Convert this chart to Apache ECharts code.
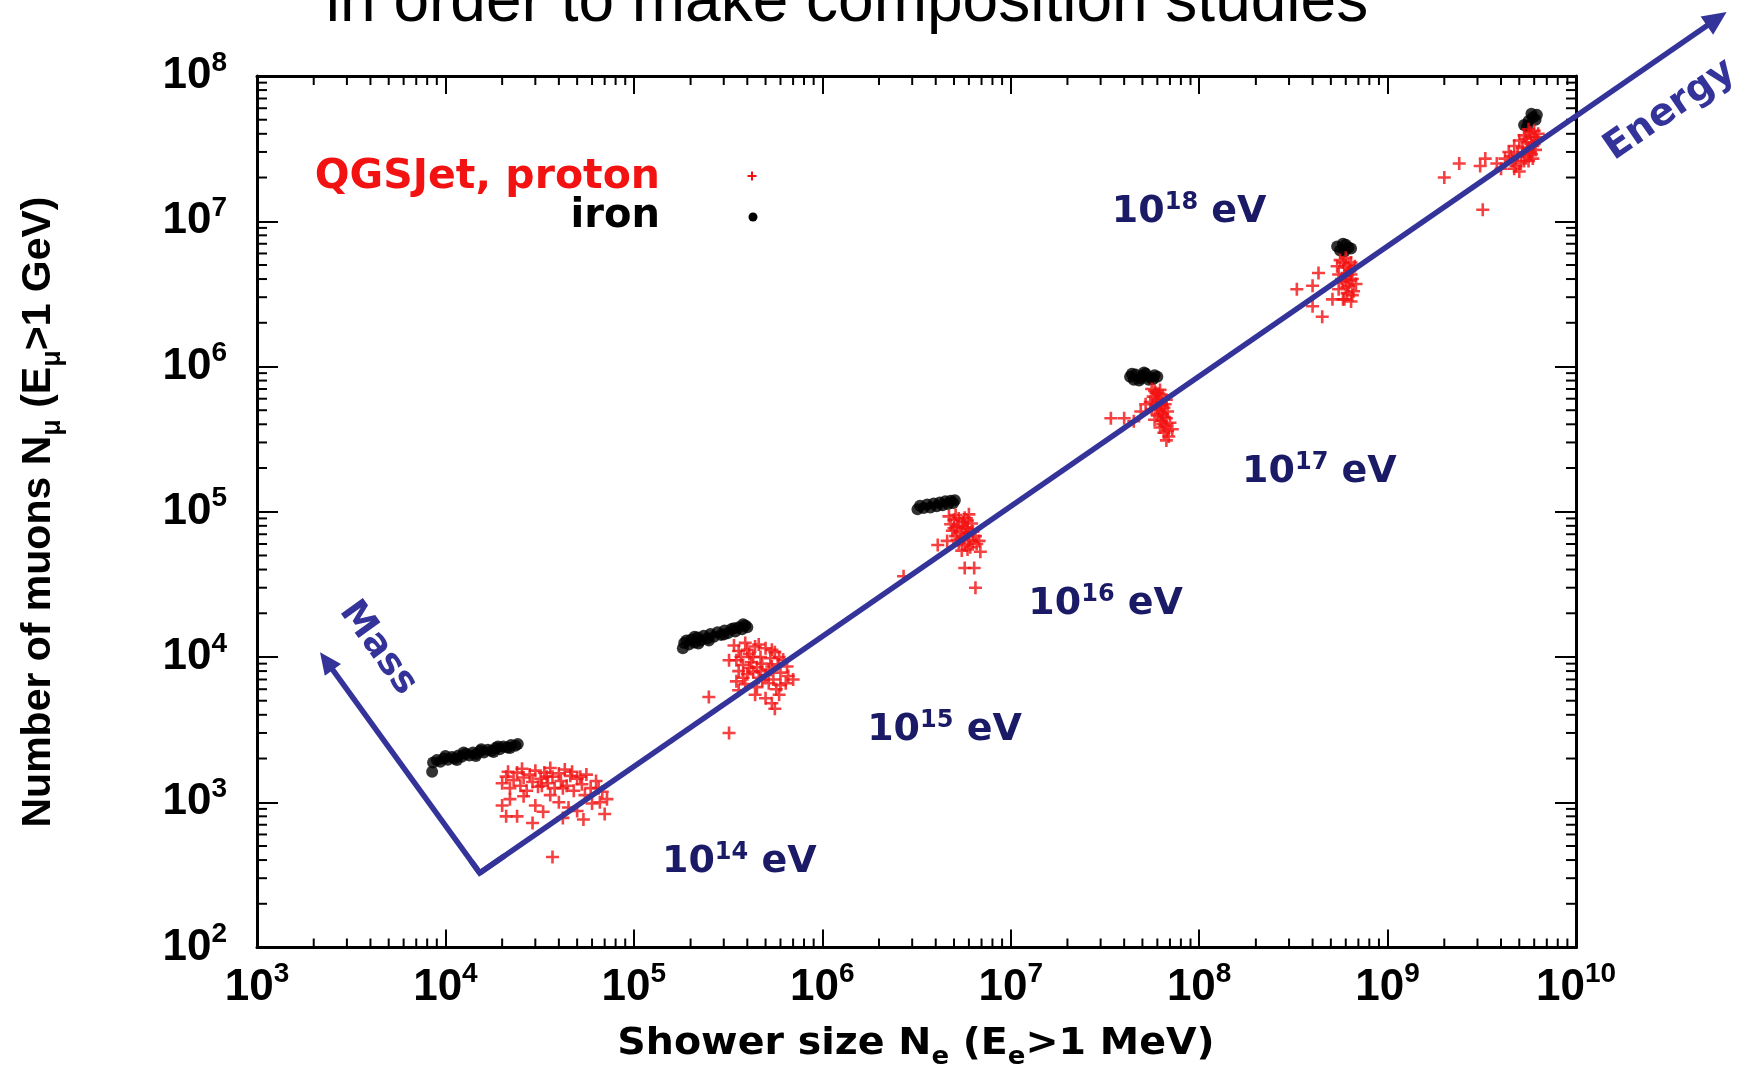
<!DOCTYPE html>
<html><head><meta charset="utf-8">
<script src="https://cdn.jsdelivr.net/npm/echarts@6/dist/echarts.min.js"></script>
<style>html,body{margin:0;padding:0;background:#fff}#c{width:1754px;height:1069px}</style>
</head><body><div id="c"></div>
<script>
// ---------- DATA (Ne = shower size, Nmu = muon number) ----------
const xRange = [1e3, 1e10];
const yRange = [1e2, 1e8];

const ironE14 = [[8.5e3,1.62e3],[8.6e3,1.88e3],[9.0e3,1.95e3],[9.4e3,1.9e3],[9.8e3,2.0e3],[1.03e4,1.96e3],[1.08e4,2.05e3],[1.12e4,2.0e3],[1.17e4,2.1e3],[1.22e4,2.06e3],[1.28e4,2.15e3],[1.34e4,2.1e3],[1.4e4,2.2e3],[1.46e4,2.15e3],[1.53e4,2.25e3],[1.6e4,2.2e3],[1.68e4,2.3e3],[1.76e4,2.26e3],[1.85e4,2.36e3],[1.94e4,2.32e3],[2.03e4,2.42e3],[2.13e4,2.38e3],[2.23e4,2.48e3],[2.35e4,2.45e3],[2.42e4,2.52e3],[1.0e4,2.08e3],[1.25e4,2.2e3],[1.55e4,2.32e3],[1.9e4,2.42e3],[1.15e4,1.95e3],[1.45e4,2.08e3],[1.8e4,2.22e3],[2.2e4,2.36e3]];
const ironE15 = [[1.82e5,1.15e4],[1.85e5,1.25e4],[1.9e5,1.3e4],[1.96e5,1.22e4],[2.02e5,1.32e4],[2.1e5,1.26e4],[2.18e5,1.36e4],[2.26e5,1.3e4],[2.35e5,1.4e4],[2.45e5,1.34e4],[2.55e5,1.44e4],[2.66e5,1.38e4],[2.78e5,1.48e4],[2.9e5,1.42e4],[3.03e5,1.52e4],[3.16e5,1.46e4],[3.3e5,1.56e4],[3.45e5,1.5e4],[3.6e5,1.6e4],[3.75e5,1.55e4],[3.9e5,1.65e4],[4.0e5,1.6e4],[2.1e5,1.38e4],[2.5e5,1.3e4],[3.0e5,1.43e4],[3.4e5,1.58e4],[3.8e5,1.68e4],[2.2e5,1.24e4]];
const ironE16 = [[3.2e6,1.04e5],[3.3e6,1.1e5],[3.45e6,1.06e5],[3.6e6,1.12e5],[3.75e6,1.07e5],[3.9e6,1.14e5],[4.05e6,1.09e5],[4.2e6,1.16e5],[4.35e6,1.11e5],[4.5e6,1.18e5],[4.65e6,1.13e5],[4.8e6,1.19e5],[4.95e6,1.15e5],[5.05e6,1.2e5]];
const ironE17 = [[4.3e7,8.5e5],[4.6e7,8.8e5],[4.9e7,8.3e5],[5.2e7,8.9e5],[5.5e7,8.4e5],[5.8e7,8.7e5],[4.5e7,8.1e5],[5.0e7,8.6e5],[5.4e7,8.1e5],[6.0e7,8.5e5],[4.4e7,8.9e5],[5.1e7,9.1e5],[5.7e7,8.2e5],[4.8e7,8.0e5]];
const ironE18 = [[5.4e8,6.7e6],[5.8e8,7.0e6],[6.2e8,6.6e6],[5.6e8,6.3e6],[6.0e8,6.9e6],[6.4e8,6.5e6],[5.9e8,6.2e6]];
const ironE19 = [[5.3e9,4.6e7],[5.6e9,4.9e7],[5.9e9,5.2e7],[6.2e9,5.4e7],[5.5e9,4.5e7],[6.1e9,5.0e7],[5.8e9,5.5e7]];

const protonE14 = [[2.0e4,1.35e3],[2.1e4,1.5e3],[2.2e4,1.25e3],[2.3e4,1.42e3],[2.4e4,1.6e3],[2.5e4,1.3e3],[2.6e4,1.48e3],[2.7e4,1.2e3],[2.8e4,1.55e3],[2.9e4,1.38e3],[3.0e4,1.65e3],[3.1e4,1.28e3],[3.2e4,1.45e3],[3.35e4,1.6e3],[3.5e4,1.35e3],[3.6e4,1.72e3],[3.7e4,1.5e3],[3.8e4,1.25e3],[4.0e4,1.58e3],[4.1e4,1.4e3],[4.3e4,1.68e3],[4.4e4,1.3e3],[4.6e4,1.52e3],[4.8e4,1.2e3],[5.0e4,1.45e3],[5.3e4,1.33e3],[5.6e4,1.55e3],[5.9e4,1.25e3],[6.3e4,1.4e3],[6.8e4,1.18e3],[7.2e4,1.05e3],[2.0e4,950],[2.2e4,1.05e3],[2.4e4,800],[2.9e4,720],[3.3e4,860],[4.0e4,1.0e3],[4.5e4,920],[5.0e4,870],[5.4e4,760],[6.0e4,980],[7.0e4,830],[3.7e4,420],[2.15e4,1.62e3],[2.55e4,1.7e3],[3.25e4,1.3e3],[3.45e4,1.5e3],[4.2e4,1.25e3],[4.7e4,1.62e3],[5.2e4,1.5e3],[5.5e4,1.12e3],[6.5e4,1.25e3],[2.6e4,1.1e3],[3.0e4,950],[3.6e4,1.12e3],[4.2e4,780],[2.1e4,800],[6.6e4,1.0e3]];
const protonE15 = [[3.4e5,1.2e4],[3.6e5,1.1e4],[3.9e5,1.25e4],[4.1e5,1.05e4],[4.4e5,1.18e4],[4.7e5,1.0e4],[5.0e5,1.15e4],[5.3e5,9.8e3],[5.6e5,1.08e4],[3.5e5,9.5e3],[3.8e5,8.8e3],[4.2e5,9.2e3],[4.5e5,8.5e3],[4.8e5,9.0e3],[5.2e5,8.2e3],[5.8e5,8.9e3],[6.2e5,9.6e3],[3.6e5,8.0e3],[4.0e5,7.6e3],[4.3e5,7.9e3],[4.6e5,7.2e3],[5.0e5,7.5e3],[5.5e5,7.0e3],[6.0e5,7.8e3],[6.6e5,7.4e3],[3.5e5,6.8e3],[3.9e5,6.5e3],[4.5e5,6.2e3],[5.2e5,6.6e3],[6.0e5,6.4e3],[7.0e5,7.0e3],[3.6e5,5.9e3],[4.4e5,5.5e3],[5.0e5,5.2e3],[5.4e5,4.8e3],[5.9e5,5.5e3],[5.6e5,4.4e3],[3.2e5,9.5e3],[2.5e5,5.3e3],[3.2e5,3.0e3],[4.0e5,1.12e4],[4.6e5,1.22e4],[5.4e5,1.12e4],[3.7e5,1.0e4],[4.3e5,1.0e4],[5.9e5,1.0e4],[6.5e5,8.6e3],[4.1e5,8.4e3],[4.7e5,8.0e3],[5.4e5,8.6e3],[3.8e5,7.2e3],[4.8e5,6.9e3],[5.7e5,6.0e3],[6.4e5,6.6e3]];
const protonE16 = [[4.7e6,9.3e4],[5.0e6,8.8e4],[5.3e6,9.0e4],[5.6e6,8.5e4],[4.8e6,8.2e4],[5.2e6,7.9e4],[5.5e6,8.0e4],[5.9e6,7.6e4],[6.2e6,8.3e4],[4.9e6,7.4e4],[5.4e6,7.2e4],[5.8e6,7.0e4],[6.3e6,7.3e4],[5.1e6,6.8e4],[5.6e6,6.6e4],[6.0e6,6.4e4],[6.5e6,6.8e4],[5.3e6,6.1e4],[5.7e6,5.9e4],[6.1e6,5.7e4],[6.6e6,6.0e4],[6.9e6,5.3e4],[5.5e6,5.4e4],[4.1e6,5.9e4],[4.6e6,6.3e4],[5.7e6,4.1e4],[6.4e6,4.1e4],[6.5e6,3.0e4],[2.7e6,3.6e4],[6.0e6,9.6e4],[5.1e6,9.5e4],[5.7e6,9.1e4],[5.9e6,8.7e4],[5.0e6,7.7e4],[5.7e6,7.8e4],[6.0e6,7.1e4],[5.2e6,6.4e4],[6.3e6,6.2e4],[5.9e6,5.5e4],[6.8e6,6.3e4]];
const protonE17 = [[5.6e7,7.0e5],[5.9e7,6.6e5],[6.2e7,6.9e5],[5.7e7,6.2e5],[6.0e7,6.0e5],[6.4e7,6.3e5],[5.5e7,5.7e5],[5.9e7,5.5e5],[6.3e7,5.6e5],[6.7e7,5.9e5],[5.6e7,5.1e5],[6.1e7,5.0e5],[6.5e7,5.2e5],[6.0e7,4.6e5],[6.4e7,4.7e5],[6.8e7,4.9e5],[5.8e7,4.3e5],[6.3e7,4.2e5],[6.7e7,4.4e5],[6.2e7,3.8e5],[6.6e7,3.9e5],[7.0e7,4.1e5],[6.5e7,3.5e5],[6.9e7,3.3e5],[7.2e7,3.7e5],[3.4e7,4.4e5],[4.0e7,4.4e5],[4.5e7,4.2e5],[4.9e7,4.9e5],[5.2e7,5.5e5],[5.8e7,6.8e5],[6.1e7,6.5e5],[6.0e7,5.8e5],[6.3e7,5.4e5],[6.6e7,5.5e5],[6.2e7,4.8e5],[6.5e7,4.5e5],[6.4e7,4.0e5],[6.8e7,3.6e5],[6.7e7,3.1e5]];
const protonE18 = [[5.6e8,5.4e6],[6.0e8,5.6e6],[6.4e8,5.2e6],[5.4e8,4.9e6],[5.9e8,4.8e6],[6.3e8,4.6e6],[6.7e8,4.9e6],[5.5e8,4.3e6],[6.0e8,4.2e6],[6.5e8,4.0e6],[5.8e8,3.8e6],[6.2e8,3.6e6],[6.8e8,3.7e6],[5.5e8,3.4e6],[6.1e8,3.2e6],[6.6e8,3.3e6],[5.8e8,2.9e6],[6.4e8,2.8e6],[5.1e8,2.9e6],[5.9e8,2.9e6],[4.3e8,4.4e6],[3.3e8,3.4e6],[4.0e8,3.6e6],[4.0e8,2.6e6],[4.5e8,2.2e6],[5.8e8,5.2e6],[6.2e8,5.0e6],[6.1e8,4.4e6],[6.4e8,4.3e6],[5.7e8,4.0e6],[6.3e8,3.9e6],[6.0e8,3.5e6],[6.5e8,3.1e6]];
const protonE19 = [[5.6e9,4.3e7],[6.0e9,4.2e7],[6.3e9,4.0e7],[5.3e9,3.9e7],[5.8e9,3.8e7],[6.2e9,3.6e7],[5.0e9,3.6e7],[5.5e9,3.5e7],[5.9e9,3.3e7],[4.7e9,3.3e7],[5.2e9,3.2e7],[5.7e9,3.0e7],[6.1e9,3.1e7],[4.4e9,3.0e7],[4.9e9,2.9e7],[5.4e9,2.8e7],[5.9e9,2.7e7],[4.2e9,2.7e7],[4.6e9,2.6e7],[5.1e9,2.5e7],[5.6e9,2.6e7],[3.8e9,2.5e7],[4.0e9,2.3e7],[4.7e9,2.3e7],[5.0e9,2.2e7],[3.1e9,2.4e7],[3.3e9,2.7e7],[2.4e9,2.5e7],[2.0e9,2.0e7],[3.2e9,1.2e7],[5.7e9,4.1e7],[6.1e9,3.8e7],[5.4e9,3.7e7],[5.6e9,3.2e7],[6.0e9,3.4e7],[5.2e9,3.0e7],[5.8e9,2.9e7],[5.3e9,2.6e7],[4.5e9,2.8e7],[4.8e9,2.4e7]];

// energy labels (exponent) and their anchors in data coordinates
const energyExponents = ['14','15','16','17','18'];
const energyAnchors = [[1.41e5,388],[1.73e6,3.14e3],[1.24e7,2.32e4],[1.69e8,1.88e5],[3.44e7,1.16e7]];
// annotation arrows in data coordinates
const arrowVertex = [1.52e4, 326];
const massTip = [2.16e3, 1.08e4];
const energyTip = [6.3e10, 2.76e8];
const massLabelAt = [4.38e3, 1.15e4];
const energyLabelAt = [3.15e10, 5.83e7];

const legendNames = ['QGSJet, proton', 'iron'];
const titleText = 'in order to make composition studies';

// ---------- CHART ----------
const iron = [].concat(ironE14, ironE15, ironE16, ironE17, ironE18, ironE19);
const proton = [].concat(protonE14, protonE15, protonE16, protonE17, protonE18, protonE19);

const ARIAL = "'Liberation Sans', Arial, sans-serif";
const DEJA = "'DejaVu Sans', sans-serif";
const NAVY = '#1a1a66';
const BLUE = '#333399';
const RED = '#f21212';
const plusPath = 'path://M4,0H6V4H10V6H6V10H4V6H0V4H4Z';

const tickRich = {
  b: {fontFamily: ARIAL, fontWeight: 'bold', fontSize: 44, lineHeight: 44, color: '#000'},
  s: {fontFamily: ARIAL, fontWeight: 'bold', fontSize: 28, lineHeight: 14, height: 18, verticalAlign: 'top', color: '#000'}
};
function powLabel(v) {
  return '{b|10}{s|' + Math.round(Math.log10(v)) + '}';
}
function logAxis(pos, showLabel, tickLen, margin, range, split) {
  return {
    type: 'log', logBase: 10, min: range[0], max: range[1], splitNumber: split,
    position: pos,
    axisLine: {show: true, onZero: false, lineStyle: {color: '#000', width: 3}},
    axisTick: {show: true, inside: true, length: tickLen, lineStyle: {color: '#000', width: 2}},
    minorTick: {show: false},
    splitLine: {show: false},
    axisLabel: {show: showLabel, margin: margin, formatter: powLabel, rich: tickRich,
                showMinLabel: true, showMaxLabel: true, hideOverlap: false}
  };
}

const chart = echarts.init(document.getElementById('c'), null, {renderer: 'canvas'});
chart.setOption({
  animation: false,
  backgroundColor: '#fff',
  grid: {left: 257, top: 76, right: 178, bottom: 121.5, containLabel: false, outerBoundsMode: 'none'},
  xAxis: [logAxis('bottom', true, 18, 18, xRange, 7), logAxis('top', false, 18, 18, xRange, 7)],
  yAxis: [logAxis('left', true, 21, 30, yRange, 6), logAxis('right', false, 21, 30, yRange, 6)],
  series: [
    {type: 'scatter', name: 'iron', data: iron, symbol: 'circle', symbolSize: 12,
     itemStyle: {color: '#000'}, z: 2, silent: true},
    {type: 'scatter', name: 'QGSJet, proton', data: proton, symbol: plusPath, symbolSize: 13,
     itemStyle: {color: RED}, z: 3, silent: true}
  ]
});

// ---------- ANNOTATIONS via the chart's own coordinate system ----------
const P = v => chart.convertToPixel({gridIndex: 0}, v);
const PX = v => chart.convertToPixel({xAxisIndex: 0}, v);
const PY = v => chart.convertToPixel({yAxisIndex: 0}, v);
const g = [];
function line(x1, y1, x2, y2, color, w, z) {
  return {type: 'line', silent: true, z: z || 50, shape: {x1, y1, x2, y2}, style: {stroke: color, lineWidth: w}};
}
function text(x, y, str, rich, align, valign, extra, base) {
  const st = Object.assign({text: str, rich: rich, align: align, verticalAlign: valign,
                            textAlign: align, textVerticalAlign: valign}, base || {});
  return Object.assign({type: 'text', silent: true, z: 200, x: x, y: y, style: st}, extra || {});
}

// minor ticks (2..9 within each decade) on all four sides
const L = PX(xRange[0]), R = PX(xRange[1]), T = PY(yRange[1]), B = PY(yRange[0]);
for (let d = 3; d < 10; d++) for (let k = 2; k <= 9; k++) {
  const x = PX(k * Math.pow(10, d));
  g.push(line(x, B, x, B - 9, '#000', 2));
  g.push(line(x, T, x, T + 9, '#000', 2));
}
for (let d = 2; d < 8; d++) for (let k = 2; k <= 9; k++) {
  const y = PY(k * Math.pow(10, d));
  g.push(line(L, y, L + 10, y, '#000', 2));
  g.push(line(R, y, R - 10, y, '#000', 2));
}

// arrows
function arrow(from, to, headLen, half) {
  const dx = to[0] - from[0], dy = to[1] - from[1], l = Math.hypot(dx, dy);
  const ux = dx / l, uy = dy / l;
  const bx = to[0] - ux * headLen, by = to[1] - uy * headLen;
  g.push(line(from[0], from[1], bx + ux * 3, by + uy * 3, BLUE, 5.5, 150));
  g.push({type: 'polygon', silent: true, z: 151,
          shape: {points: [[to[0], to[1]], [bx - uy * half, by + ux * half], [bx + uy * half, by - ux * half]]},
          style: {fill: BLUE}});
}
const pv = P(arrowVertex), pm = P(massTip), pe = P(energyTip);
arrow(pv, pm, 22, 10);
arrow(pv, pe, 24, 11);
// join at the vertex
g.push({type: 'polyline', silent: true, z: 150,
        shape: {points: [[pv[0] + (pm[0] - pv[0]) * 0.05, pv[1] + (pm[1] - pv[1]) * 0.05], [pv[0], pv[1]],
                         [pv[0] + (pe[0] - pv[0]) * 0.02, pv[1] + (pe[1] - pv[1]) * 0.02]]},
        style: {stroke: BLUE, lineWidth: 5.5, lineJoin: 'miter', fill: null}});

const annRich = (color, size) => ({
  n: {fontFamily: DEJA, fontWeight: 'bold', fontSize: size, lineHeight: size, fill: color, color: color}
});
const pml = P(massLabelAt);
g.push(text(pml[0], pml[1], '{n|Mass}', annRich(BLUE, 37), 'center', 'middle',
  {rotation: -Math.atan2(pv[1] - pm[1], pv[0] - pm[0])}));
const pel = P(energyLabelAt);
g.push(text(pel[0], pel[1], '{n|Energy}', annRich(BLUE, 38), 'center', 'middle',
  {rotation: Math.atan2(pv[1] - pe[1], pe[0] - pv[0])}));

// energy labels
const eRich = {
  b: {fontFamily: DEJA, fontWeight: 'bold', fontSize: 38, lineHeight: 38, fill: NAVY, color: NAVY},
  s: {fontFamily: DEJA, fontWeight: 'bold', fontSize: 24, lineHeight: 12, height: 20, verticalAlign: 'top', fill: NAVY, color: NAVY}
};
energyExponents.forEach((e, i) => {
  const p = P(energyAnchors[i]);
  g.push(text(p[0], p[1], '{b|10}{s|' + e + '}{b| eV}', eRich, 'left', 'middle'));
});

// legend
const legRich = {
  r: {fontFamily: DEJA, fontWeight: 'bold', fontSize: 41, lineHeight: 41, fill: RED, color: RED},
  k: {fontFamily: DEJA, fontWeight: 'bold', fontSize: 40, lineHeight: 40, fill: '#000', color: '#000'}
};
g.push(text(660, 177, '{r|' + legendNames[0] + '}', legRich, 'right', 'middle'));
g.push(text(660, 217, '{k|' + legendNames[1] + '}', legRich, 'right', 'middle'));
g.push({type: 'rect', silent: true, z: 200, shape: {x: 747.5, y: 175, width: 9, height: 2}, style: {fill: RED}});
g.push({type: 'rect', silent: true, z: 200, shape: {x: 751, y: 171.5, width: 2, height: 9}, style: {fill: RED}});
g.push({type: 'circle', silent: true, z: 200, shape: {cx: 753, cy: 217, r: 4.5}, style: {fill: '#000'}});

// axis names (main text top-aligned, subscripts pushed down via a taller line box)
const nameRich = (fam, size, sub, subLine) => ({
  n: {fontFamily: fam, fontWeight: 'bold', fontSize: size, lineHeight: size, verticalAlign: 'top', fill: '#000', color: '#000'},
  u: {fontFamily: fam, fontWeight: 'bold', fontSize: sub, lineHeight: subLine, verticalAlign: 'bottom', fill: '#000', color: '#000'}
});
g.push(text(916, 1047.5, '{n|Shower size N}{u|e}{n| (E}{u|e}{n|>1 MeV)}', nameRich(DEJA, 38, 25, 45),
  'center', 'middle', {scaleX: 1.04}));
g.push(text(42.5, 512, '{n|Number of muons N}{u|\u03bc}{n| (E}{u|\u03bc}{n|>1 GeV)}', nameRich(ARIAL, 41, 27, 48),
  'center', 'middle', {rotation: Math.PI / 2}));

// slide title (cut off at the top in the original)
g.push(text(847, 3, titleText, null, 'center', 'middle', null,
  {fontFamily: ARIAL, fontSize: 64, fontWeight: 'normal', fill: '#000'}));

chart.setOption({graphic: {elements: g}});
</script>
</body></html>
